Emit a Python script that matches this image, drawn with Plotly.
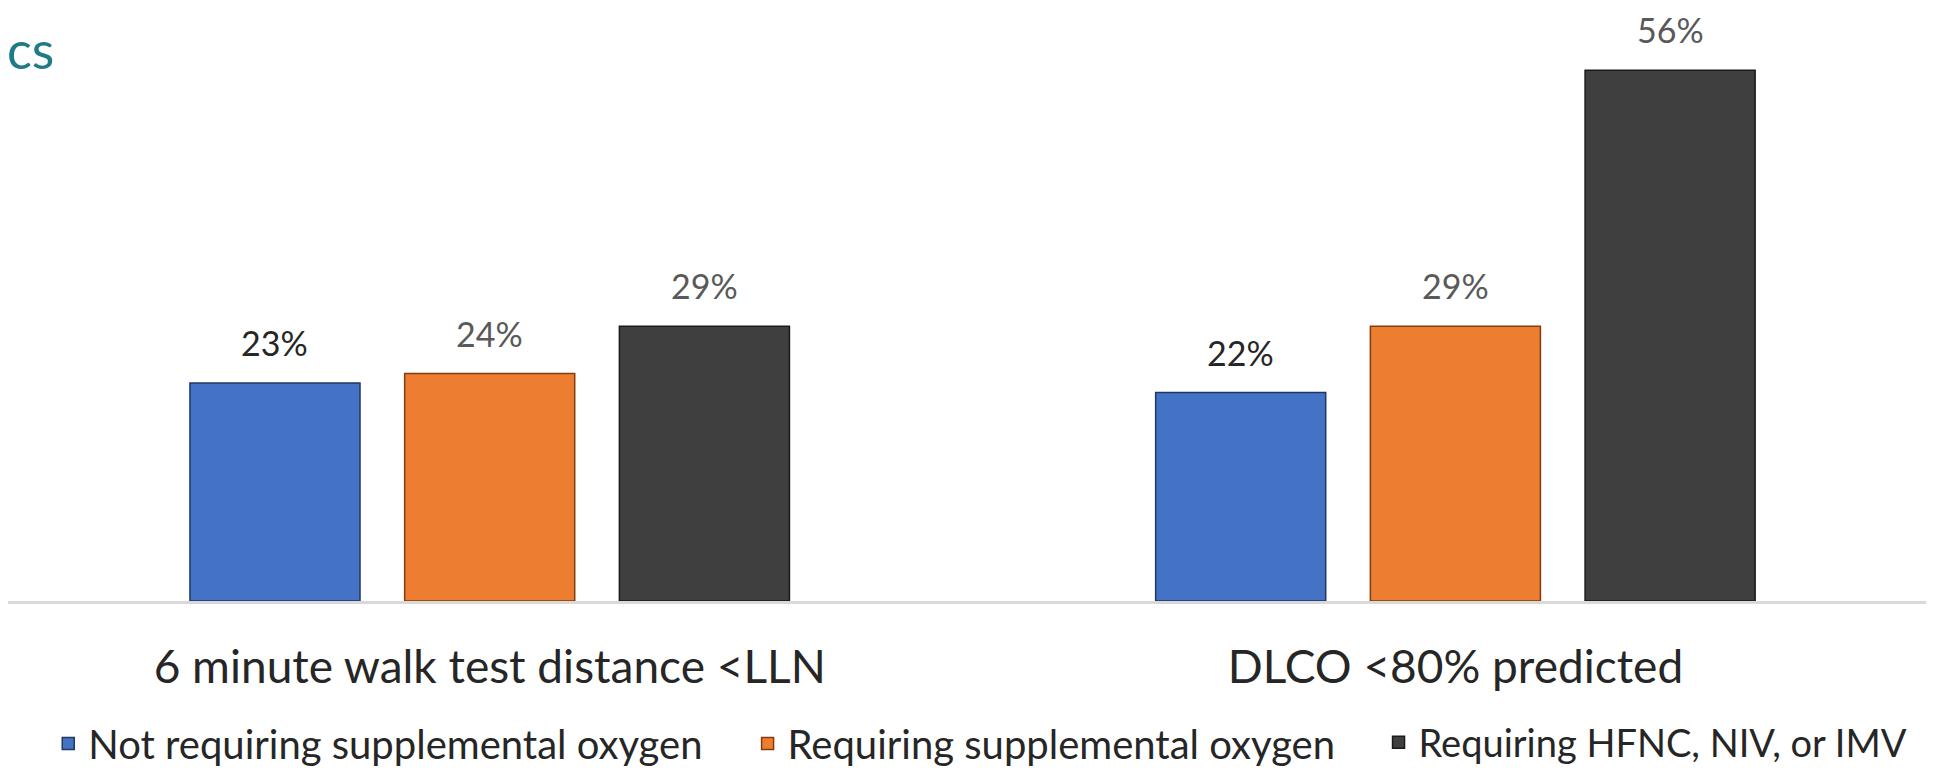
import plotly.graph_objects as go

categories = ["6 minute walk test distance <LLN", "DLCO <80% predicted"]
series_names = ["Not requiring supplemental oxygen",
                "Requiring supplemental oxygen",
                "Requiring HFNC, NIV, or IMV"]
not_requiring = [23, 22]
requiring_o2 = [24, 29]
requiring_hfnc = [29, 56]
series_values = [not_requiring, requiring_o2, requiring_hfnc]
colors = ["#4472C4", "#ED7D31", "#3F3F3F"]
outline = ["#1F3864", "#843C0C", "#1A1A1A"]
label_colors = ["#262626", "#595959", "#595959"]
legend_ids = ["legend", "legend2", "legend3"]
legend_x = [0.0209, 0.3840, 0.7116]
legend_sizes = [40, 40, 38]

FONT = "Lato, 'Open Sans', sans-serif"
bargap = 0.333

fig = go.Figure()
for name, vals, c, oc, lg in zip(series_names, series_values, colors, outline, legend_ids):
    fig.add_trace(go.Bar(
        x=categories, y=vals, name=name, legend=lg,
        marker=dict(color=c, line=dict(color=oc, width=1.5)),
    ))

# value labels above bars
slot = (1 - bargap) / 3
for j, vals in enumerate(series_values):
    for i, v in enumerate(vals):
        fig.add_annotation(
            x=i + (j - 1) * slot, y=v, xref="x", yref="y",
            text=f"{v}%", showarrow=False, yanchor="bottom", yshift=18,
            font=dict(family=FONT, size=34, color=label_colors[j]),
        )

# fragment of the slide heading visible at the top-left
fig.add_annotation(
    x=0, y=1.0, xref="paper", yref="paper", xanchor="left", yanchor="top",
    text="cs", showarrow=False, yshift=-8, xshift=-3,
    font=dict(family=FONT, size=52, color="#1F7C86"),
)

def legend_style(x, size):
    return dict(orientation="h", xanchor="left", x=x, y=-0.1855, yanchor="top",
                font=dict(family=FONT, size=size, color="#262626"),
                bgcolor="rgba(0,0,0,0)")

fig.update_layout(
    template="none",
    width=1926, height=764,
    margin=dict(l=0, r=0, t=0, b=171, autoexpand=False),
    paper_bgcolor="white", plot_bgcolor="white",
    barmode="group", bargap=bargap, bargroupgap=0.208,
    showlegend=True,
    legend=legend_style(legend_x[0], legend_sizes[0]),
    legend2=legend_style(legend_x[1], legend_sizes[1]),
    legend3=legend_style(legend_x[2], legend_sizes[2]),
    font=dict(family=FONT),
)
fig.update_xaxes(
    type="category", range=[-0.4988, 1.4956], automargin=False,
    showline=True, linecolor="#D9D9D9", linewidth=3,
    ticks="outside", ticklen=24, tickcolor="rgba(0,0,0,0)",
    tickfont=dict(family=FONT, size=46, color="#262626"),
    showgrid=False, zeroline=False,
)
fig.update_yaxes(range=[0, 62.57], visible=False, showgrid=False, zeroline=False,
                 automargin=False)

fig.write_html("out.html")
